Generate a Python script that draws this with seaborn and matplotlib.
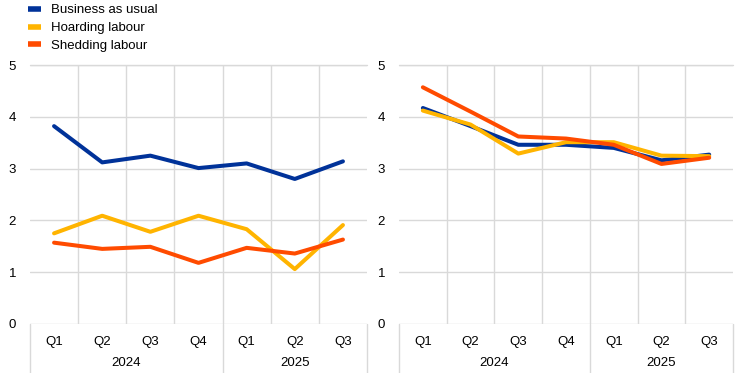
import pandas as pd
import seaborn as sns
import matplotlib.pyplot as plt
from matplotlib.lines import Line2D

quarters = ['Q1', 'Q2', 'Q3', 'Q4', 'Q1', 'Q2', 'Q3']
years = ['2024', '2025']
series = ['Business as usual', 'Hoarding labour', 'Shedding labour']
colors = ['#003299', '#ffb400', '#ff4b00']

left_business = [3.82, 3.12, 3.25, 3.01, 3.10, 2.80, 3.14]
left_hoarding = [1.75, 2.09, 1.78, 2.09, 1.83, 1.06, 1.91]
left_shedding = [1.57, 1.45, 1.49, 1.18, 1.47, 1.36, 1.63]

right_business = [4.17, 3.82, 3.46, 3.46, 3.40, 3.16, 3.27]
right_hoarding = [4.12, 3.85, 3.29, 3.51, 3.51, 3.25, 3.24]
right_shedding = [4.57, 4.10, 3.62, 3.58, 3.46, 3.09, 3.21]


def make_df(vals):
    rows = []
    for name, v in zip(series, vals):
        for i, y in enumerate(v):
            rows.append({'x': i, 'value': y, 'series': name})
    return pd.DataFrame(rows)


sns.set_style('white')
plt.rcParams['font.family'] = ['Liberation Sans', 'DejaVu Sans']
plt.rcParams['font.size'] = 9
plt.rcParams['text.color'] = 'black'
plt.rcParams['xtick.color'] = 'black'
plt.rcParams['ytick.color'] = 'black'

fig = plt.figure(figsize=(7.44, 3.73), dpi=100)
ax1 = fig.add_axes([0.0403, 0.1314, 0.453, 0.6943])
ax2 = fig.add_axes([0.5363, 0.1314, 0.449, 0.6943])

grid_c = '#d9d9d9'
for ax, vals in [(ax1, [left_business, left_hoarding, left_shedding]),
                 (ax2, [right_business, right_hoarding, right_shedding])]:
    df = make_df(vals)
    sns.lineplot(data=df, x='x', y='value', hue='series', palette=colors,
                 linewidth=2.9, ax=ax, legend=False)
    ax.set_xlim(-0.5, len(quarters) - 0.5)
    ax.set_ylim(0, 5)
    ax.set_yticks(range(6))
    ax.set_xticks(range(len(quarters)))
    ax.set_xticklabels(quarters)
    ax.set_xticks([i + 0.5 for i in range(len(quarters) - 1)], minor=True)
    ax.grid(True, which='minor', axis='x', color=grid_c, lw=1)
    ax.grid(True, which='major', axis='y', color=grid_c, lw=1)
    ax.tick_params(axis='both', which='both', length=0)
    ax.tick_params(axis='x', pad=9, labelsize=9.5)
    ax.tick_params(axis='y', pad=10, labelsize=9.5)
    ax.set_xlabel('')
    ax.set_ylabel('')
    for s in ax.spines.values():
        s.set_visible(False)
    # year separators extend down through the year labels
    tr = ax.get_xaxis_transform()
    for xb in [-0.5, 3.5, len(quarters) - 0.5]:
        ax.add_line(Line2D([xb, xb], [0, -0.19], transform=tr, color=grid_c,
                           lw=1, clip_on=False))
    ax.add_line(Line2D([-0.5, len(quarters) - 0.5], [1, 1], transform=tr,
                       color=grid_c, lw=1, clip_on=False))
    ax.text(1.5, -0.152, years[0], transform=tr, ha='center', va='center', fontsize=9.5)
    ax.text(5.0, -0.152, years[1], transform=tr, ha='center', va='center', fontsize=9.5)

handles = [Line2D([], [], color=c, lw=4, solid_capstyle='butt') for c in colors]
fig.legend(handles, series, loc='upper left', bbox_to_anchor=(0.03, 1.003),
           frameon=False, handlelength=1.0, handletextpad=0.8,
           labelspacing=0.42, fontsize=9.5, borderaxespad=0)

fig.savefig('out.png', dpi=100)
